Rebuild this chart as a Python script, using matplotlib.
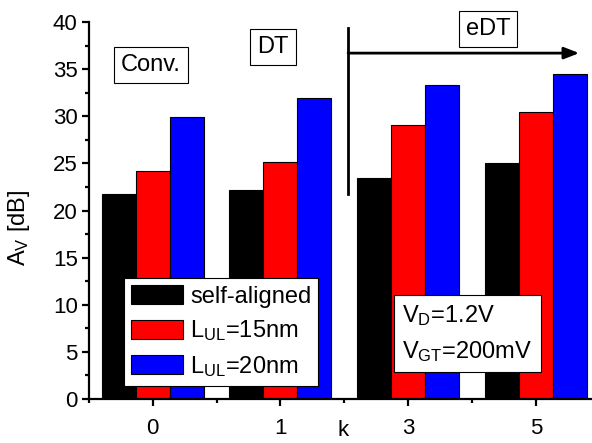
import numpy as np
import matplotlib
matplotlib.use('Agg')
import matplotlib.pyplot as plt

plt.rcParams['font.family'] = ['Liberation Sans', 'DejaVu Sans']
plt.rcParams['mathtext.fontset'] = 'custom'
plt.rcParams['mathtext.rm'] = 'Liberation Sans'
plt.rcParams['mathtext.it'] = 'Liberation Sans'

# gain per structure, grouped by k
k_labels = ['0', '1', '3', '5']
self_aligned = [21.7, 22.2, 23.4, 25.0]
l_ul_15 = [24.2, 25.2, 29.1, 30.5]
l_ul_20 = [29.9, 31.9, 33.3, 34.5]

series = [
    (self_aligned, 'self-aligned', '#000000'),
    (l_ul_15, r'$\mathregular{L_{UL}}$=15nm', '#ff0000'),
    (l_ul_20, r'$\mathregular{L_{UL}}$=20nm', '#0000ff'),
]

fig = plt.figure(figsize=(5.92, 4.43), dpi=100)
ax = fig.add_axes([0.150, 0.0993, 0.850, 0.851])

x = np.arange(len(k_labels))
width = 0.8 / 3
for i, (vals, lab, col) in enumerate(series):
    ax.bar(x + (i - 1) * width, vals, width, color=col, edgecolor='black',
           linewidth=0.8, label=lab, zorder=2)

ax.set_xlim(-0.5, 3.44)
ax.set_ylim(0, 40)
ax.set_xticks(x)
ax.set_xticklabels(k_labels)
ax.set_xticks(np.r_[-0.5, x[:-1] + 0.5], minor=True)
ax.set_yticks(np.arange(0, 41, 5))
ax.set_yticks(np.arange(2.5, 40, 5), minor=True)

for side in ['top', 'right']:
    ax.spines[side].set_visible(False)
for side in ['left', 'bottom']:
    ax.spines[side].set_linewidth(1.6)
ax.tick_params(which='major', direction='out', length=5, width=1.6, labelsize=16)
ax.tick_params(which='minor', direction='out', length=3, width=1.6)
ax.tick_params(axis='x', which='major', pad=9)
ax.tick_params(axis='y', which='major', pad=3)

ax.set_xlabel('k', fontsize=16)
ax.xaxis.set_label_coords(0.505, -0.056)
ax.set_ylabel(r'$\mathregular{A_V}$ [dB]', fontsize=17)
ax.yaxis.set_label_coords(-0.112, 0.454)

leg = ax.legend(loc='lower left', bbox_to_anchor=(0.07, 0.035), borderaxespad=0,
                fontsize=17, frameon=True, fancybox=False, framealpha=1,
                handlelength=2.2, handleheight=0.85, handletextpad=0.3,
                borderpad=0.3, labelspacing=0.45)
leg.get_frame().set_edgecolor('black')
leg.get_frame().set_linewidth(0.8)
leg.set_zorder(5)

box = dict(boxstyle='square,pad=0.3', facecolor='white', edgecolor='black', linewidth=0.8)
ax.text(-0.012, 35.4, 'Conv.', fontsize=17, ha='center', va='center', bbox=box, zorder=5)
ax.text(0.941, 37.35, 'DT', fontsize=17, ha='center', va='center', bbox=box, zorder=5)
ax.text(2.625, 39.3, 'eDT', fontsize=17, ha='center', va='center', bbox=box, zorder=5)
ax.text(2.465, 6.95, 'V$\\mathregular{_D}$=1.2V\nV$\\mathregular{_{GT}}$=200mV',
        fontsize=17, ha='center', va='center', multialignment='left',
        linespacing=1.55, bbox=dict(boxstyle='square,pad=0.35', facecolor='white',
                                    edgecolor='black', linewidth=0.8), zorder=5)

# boundary of the eDT region and its arrow
ax.plot([1.53, 1.53], [21.75, 39.4], color='black', linewidth=2, zorder=4, clip_on=False)
ax.annotate('', xy=(3.34, 36.7), xytext=(1.53, 36.7),
            arrowprops=dict(arrowstyle='-|>,head_length=0.9,head_width=0.35',
                            color='black', linewidth=2, shrinkA=0, shrinkB=0),
            zorder=4)

fig.savefig('out.png', dpi=100)
